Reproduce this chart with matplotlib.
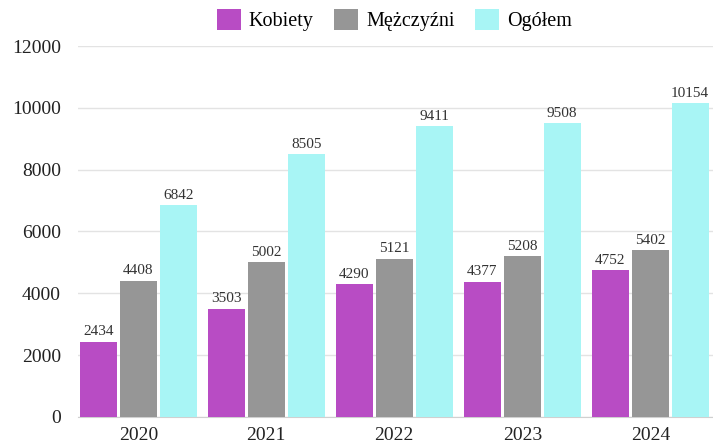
import matplotlib.pyplot as plt
import numpy as np

# dane
years = ["2020", "2021", "2022", "2023", "2024"]
kobiety = [2434, 3503, 4290, 4377, 4752]
mezczyzni = [4408, 5002, 5121, 5208, 5402]
ogolem = [6842, 8505, 9411, 9508, 10154]

series = [("Kobiety", kobiety, "#b84cc4"),
          ("Mężczyźni", mezczyzni, "#969696"),
          ("Ogółem", ogolem, "#a8f5f5")]

plt.rcParams['font.family'] = ['Liberation Serif', 'DejaVu Serif']

fig = plt.figure(figsize=(7.13, 4.43), dpi=100)
ax = fig.add_axes([0.109, 0.059, 0.891, 0.837])

x = np.arange(len(years))
w = 0.29
step = 0.312
for i, (name, vals, col) in enumerate(series):
    pos = x + (i - 1) * step
    bars = ax.bar(pos, vals, w, color=col, label=name, zorder=3)
    for b, v in zip(bars, vals):
        ax.text(b.get_x() + b.get_width() / 2, v + 110, str(v),
                ha='center', va='bottom', fontsize=11, color='#333333')

ax.set_xlim(-0.473, 4.49)
ax.set_ylim(0, 12000)
ax.set_yticks(range(0, 12001, 2000))
ax.set_xticks(x)
ax.set_xticklabels(years)
ax.tick_params(axis='both', length=0, labelsize=14, colors='#222222')
ax.tick_params(axis='y', pad=12)
ax.tick_params(axis='x', pad=7)
ax.grid(axis='y', color='#e3e3e3', linewidth=1, zorder=0)
for s in ['top', 'right', 'left']:
    ax.spines[s].set_visible(False)
ax.spines['bottom'].set_color('#d0d0d0')

fig.legend(loc='upper center', bbox_to_anchor=(0.553, 1.02), ncol=3,
           frameon=False, fontsize=14.5, handlelength=1.2, handleheight=1.2,
           columnspacing=1.0, handletextpad=0.4)

fig.savefig("out.png", dpi=100)
